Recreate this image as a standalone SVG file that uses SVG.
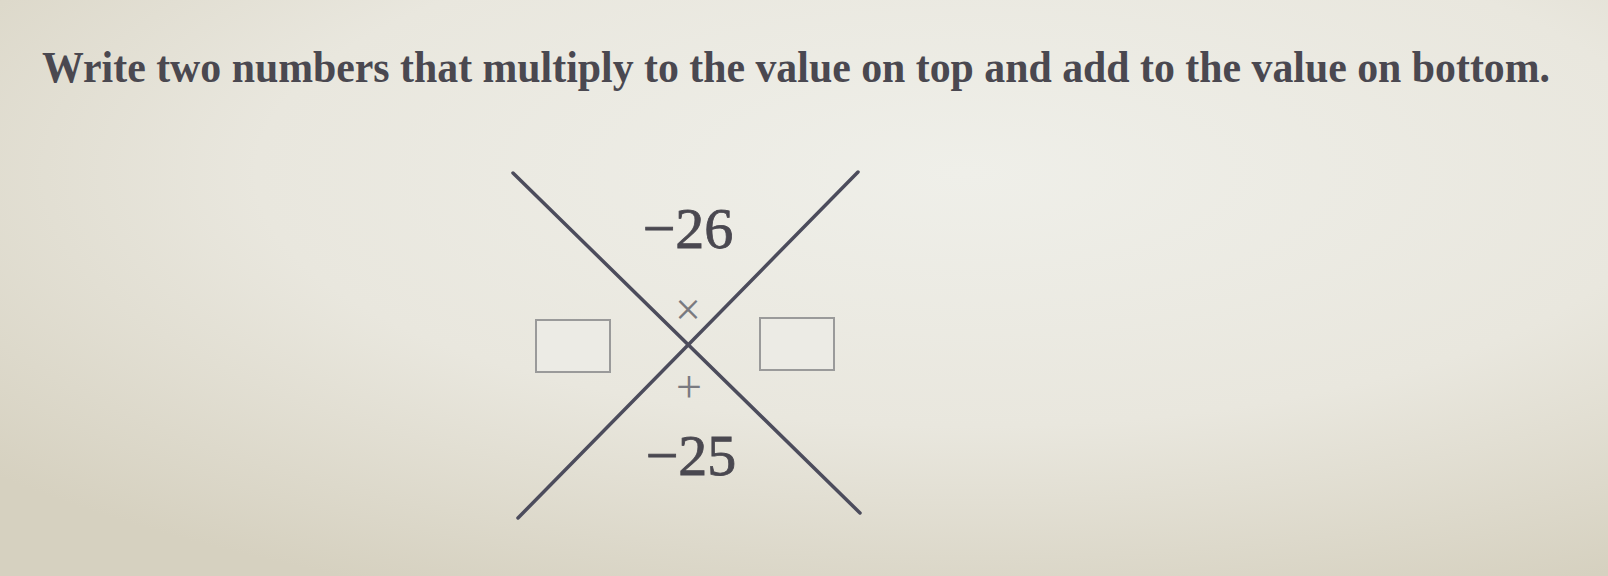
<svg xmlns="http://www.w3.org/2000/svg" width="1608" height="576" viewBox="0 0 1608 576">
<defs>
<radialGradient id="bg" cx="0.6" cy="0.3" r="0.8">
<stop offset="0" stop-color="#efefe9"/>
<stop offset="0.55" stop-color="#e9e7de"/>
<stop offset="1" stop-color="#d6d1c0"/>
</radialGradient>
<style>
.title{font-family:"Liberation Serif",serif;font-weight:bold;font-size:44px;fill:#4a4850}
.num{font-family:"Liberation Serif",serif;font-size:58px;fill:#4a4850;stroke:#4a4850;stroke-width:0.8;text-anchor:middle}
.op{font-family:"Liberation Serif",serif;font-size:46px;fill:#7a7a80;text-anchor:middle}
.line{stroke:#4c4c5c;stroke-width:3.5;stroke-linecap:round;fill:none}
.box{stroke:#9a9a9a;stroke-width:2;fill:#ecebe5}
</style>
</defs>
<rect width="1608" height="576" fill="url(#bg)"/>
<text class="title" x="42" y="82" textLength="1508" lengthAdjust="spacingAndGlyphs">Write two numbers that multiply to the value on top and add to the value on bottom.</text>
<g id="connectors">
<line class="line" x1="513" y1="173" x2="860" y2="513"/>
<line class="line" x1="858" y1="172" x2="518" y2="518"/>
</g>
<g id="top-value"><text class="num" x="688" y="248">−26</text></g>
<g id="bottom-value"><text class="num" x="691" y="475">−25</text></g>
<g id="times"><text class="op" x="688" y="325">×</text></g>
<g id="plus"><text class="op" x="689" y="402">+</text></g>
<g id="left-box"><rect class="box" x="536" y="320" width="74" height="52"/></g>
<g id="right-box"><rect class="box" x="760" y="318" width="74" height="52"/></g>
</svg>
